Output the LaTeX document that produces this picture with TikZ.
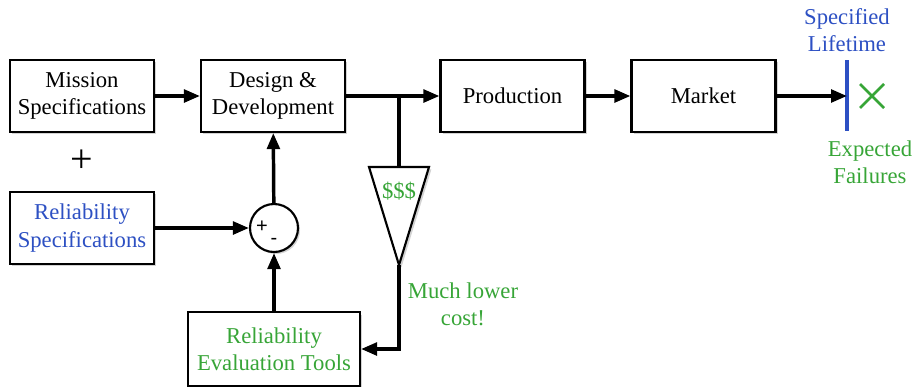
\documentclass[tikz,border=0pt]{standalone}
\usepackage{fontspec}
\setmainfont{Liberation Serif}
\newfontfamily\sumfont{Liberation Sans}
\usetikzlibrary{arrows.meta,shadows}
\definecolor{tblue}{RGB}{45,80,195}
\definecolor{tgreen}{RGB}{55,165,55}
\begin{document}
\begin{tikzpicture}[x=0.75pt,y=-0.75pt,
  box/.style={draw=black,line width=1.6pt,fill=white,align=center,
    font=\rmfamily\fontsize{17}{20.5}\selectfont,inner sep=2pt,
    drop shadow={opacity=0.35,shadow xshift=1.8pt,shadow yshift=-1.8pt,fill=gray}},
  conn/.style={line width=2.6pt,-{Triangle[length=12pt,width=9.5pt]}},
  plainconn/.style={line width=2.6pt},
  lbl/.style={align=center,font=\rmfamily\fontsize{17}{20.5}\selectfont}]
\useasboundingbox (0,0) rectangle (917,386);
\node[box,minimum width=108pt,minimum height=54pt] (mission) at (82,96) {Mission\\Specifications};
\node[box,minimum width=108pt,minimum height=54pt] (design) at (273,96) {Design \&\\Development};
\node[box,minimum width=108pt,minimum height=54pt] (prod) at (512.5,96) {Production};
\node[box,minimum width=108pt,minimum height=54pt] (market) at (703.5,96) {Market};
\node[box,minimum width=108pt,minimum height=54pt,text=tblue] (relspec) at (82,228) {Reliability\\Specifications};
\node[box,minimum width=129pt,minimum height=55pt,text=tgreen] (eval) at (274,349) {Reliability\\Evaluation Tools};
\node[draw=black,line width=1.6pt,fill=white,circle,minimum size=36pt,inner sep=0pt,
  drop shadow={opacity=0.35,shadow xshift=1.5pt,shadow yshift=-1.5pt,fill=gray}] (sum) at (274,228) {};
\node[font=\sumfont\fontsize{15}{15}\selectfont,inner sep=0pt] (splus) at (262,227) {+};
\node[font=\sumfont\fontsize{15}{15}\selectfont,inner sep=0pt] (sminus) at (274,241) {-};
\node[font=\rmfamily\fontsize{30}{30}\selectfont,inner sep=0pt] (bigplus) at (82,161) {+};
% triangle
\coordinate (tl) at (369,167);
\coordinate (tr) at (429,167);
\coordinate (tt) at (399,167);
\coordinate (tb) at (399,265);
\fill[gray,opacity=0.35] ([shift={(2.4,2.4)}]tl) -- ([shift={(2.4,2.4)}]tr) -- ([shift={(2.4,2.4)}]tb) -- cycle;
\draw[line width=1.6pt,fill=white,line join=miter] (tl) -- (tr) -- (tb) -- cycle;
\node[text=tgreen,font=\rmfamily\fontsize{17}{20.5}\selectfont] (cost) at (399,191) {\$\$\$};
\coordinate (j) at (399,96);
% connectors
\draw[conn] (mission) -- (design);
\draw[plainconn] (design) -- (j);
\draw[conn] (j) -- (prod);
\draw[plainconn] (j) -- (tt);
\draw[conn] (tb) |- (eval.east);
\draw[conn] (prod) -- (market);
\draw[conn] (relspec) -- (sum);
\draw[conn] (sum) -- (design);
\draw[conn] (eval) -- (sum);
% lifetime line
\coordinate (lt) at (847,60);
\coordinate (lb) at (847,131);
\coordinate (lm) at (847,96);
\draw[tblue,line width=2.4pt] (lt) -- (lb);
\draw[conn] (market) -- (lm);
\draw[tgreen,line width=2pt] (860,84) -- (884,108) (860,108) -- (884,84);
\node[lbl,text=tblue] (spec) at (847,30) {Specified\\Lifetime};
\node[lbl,text=tgreen] (exp) at (870,162) {Expected\\Failures};
\node[lbl,text=tgreen] (much) at (463,304) {Much lower\\cost!};
\end{tikzpicture}
\end{document}
